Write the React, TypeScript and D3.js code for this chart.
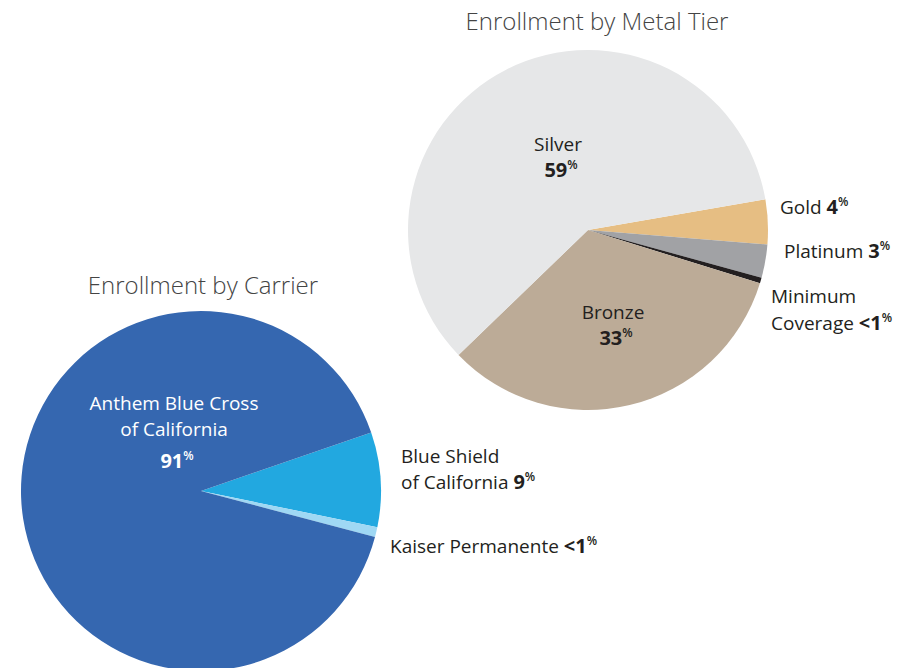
import React from "react";
import * as d3 from "d3";

const metalNames = ["Gold", "Platinum", "Minimum Coverage", "Bronze", "Silver"];
const metalValues = [4, 3, 0.5, 33, 59.5];
const metalColors = ["#e6be83", "#a1a2a5", "#231f20", "#bcab97", "#e6e7e8"];

const carrierNames = ["Blue Shield of California", "Kaiser Permanente", "Anthem Blue Cross of California"];
const carrierValues = [8.5, 0.9, 90.6];
const carrierColors = ["#22a8e0", "#9fd8f4", "#3567b0"];

const FONT = "'Open Sans', sans-serif";
const TXT = "#231f20";

function Pct({ v, lt = false }: { v: string; lt?: boolean }) {
  return (
    <>
      <tspan fontWeight={700} fontSize={20}>{lt ? "<" : ""}{v}</tspan>
      <tspan fontSize={12} dy={-8} fontWeight={600}>%</tspan>
    </>
  );
}

function Pie({ values, colors, cx, cy, r, start }: { values: number[]; colors: string[]; cx: number; cy: number; r: number; start: number }) {
  const pie = d3.pie<number>().sort(null).value((d) => d).startAngle(start).endAngle(start + 2 * Math.PI);
  const arc = d3.arc<d3.PieArcDatum<number>>().innerRadius(0).outerRadius(r);
  return (
    <g transform={`translate(${cx},${cy})`}>
      {pie(values).map((a, i) => (
        <path key={i} d={arc(a) || ""} fill={colors[i]} />
      ))}
    </g>
  );
}

export default function App() {
  const deg = Math.PI / 180;
  return (
    <svg width={917} height={668} style={{ position: "absolute", left: 0, top: 0 }} fontFamily={FONT}>
      <Pie values={metalValues} colors={metalColors} cx={588} cy={230} r={180} start={80.2 * deg} />
      <Pie values={carrierValues} colors={carrierColors} cx={201} cy={491} r={180} start={71 * deg} />

      <text x={597} y={30} textAnchor="middle" fontSize={24} fontWeight={300} fill="#444">Enrollment by Metal Tier</text>
      <text x={203} y={294} textAnchor="middle" fontSize={24} fontWeight={300} fill="#444">Enrollment by Carrier</text>

      <g fontSize={19} fill={TXT}>
        <text x={558} y={151} textAnchor="middle">Silver</text>
        <text x={561} y={177} textAnchor="middle"><Pct v="59" /></text>
        <text x={613} y={319} textAnchor="middle">Bronze</text>
        <text x={616} y={345} textAnchor="middle"><Pct v="33" /></text>
        <text x={780} y={214}>Gold <Pct v="4" /></text>
        <text x={784} y={258}>Platinum <Pct v="3" /></text>
        <text x={771} y={303}>Minimum</text>
        <text x={771} y={330}>Coverage <Pct v="1" lt /></text>

        <text x={401} y={463}>Blue Shield</text>
        <text x={401} y={489}>of California <Pct v="9" /></text>
        <text x={390} y={553}>Kaiser Permanente <Pct v="1" lt /></text>
      </g>
      <g fontSize={19} fill="#fff">
        <text x={174} y={410} textAnchor="middle">Anthem Blue Cross</text>
        <text x={174} y={436} textAnchor="middle">of California</text>
        <text x={177} y={468} textAnchor="middle"><Pct v="91" /></text>
      </g>
    </svg>
  );
}
